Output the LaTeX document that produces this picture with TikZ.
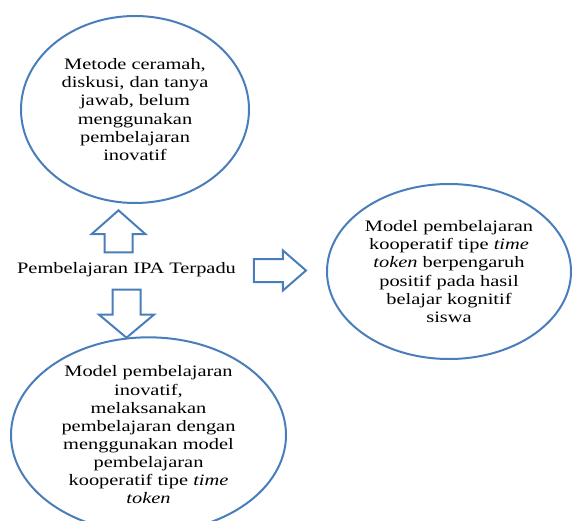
\documentclass[tikz,border=0pt]{standalone}
\usepackage{fontspec}
\setmainfont{Liberation Serif}[FakeStretch=1.28]
\usepackage{tikz}
\usetikzlibrary{shapes,arrows,fit,positioning}

\definecolor{wordblue}{RGB}{74,126,187}

\tikzset{
  bubble/.style={ellipse, draw=wordblue, line width=2bp, inner sep=0pt,
    align=center, font=\fontsize{16}{18.2}\selectfont},
  blockarrow/.style={single arrow, draw=wordblue, line width=2bp,
    inner xsep=0pt, single arrow head indent=0pt, anchor=tip}
}

\begin{document}
\begin{tikzpicture}[x=1bp,y=-1bp]
\useasboundingbox (0,0) rectangle (572,521);

\node[bubble, minimum width=228bp, minimum height=187bp] (metode) at (135,109.5)
  {Metode ceramah,\\ diskusi, dan tanya\\ jawab, belum\\ menggunakan\\ pembelajaran\\ inovatif};

\node[anchor=base, font=\fontsize{16}{18.2}\selectfont, inner sep=0pt] (ipa) at (126.5,273)
  {Pembelajaran IPA Terpadu};

\node[bubble, minimum width=244bp, minimum height=175bp] (timetoken) at (449,271.5)
  {Model pembelajaran\\ kooperatif tipe \textit{time}\\ \textit{token} berpengaruh\\ positif pada hasil\\ belajar kognitif\\ siswa};

\node[bubble, minimum width=275bp, minimum height=172bp] (inovatif) at (148.5,435)
  {Model pembelajaran\\ inovatif,\\ melaksanakan\\ pembelajaran dengan\\ menggunakan model\\ pembelajaran\\ kooperatif tipe \textit{time}\\ \textit{token}};

% block arrows from the central text
\node[blockarrow, rotate=90, minimum height=42bp, inner ysep=13bp,
  single arrow head extend=13bp, single arrow tip angle=97] (upar) at (118.5,209) {};
\node[blockarrow, rotate=-90, minimum height=48bp, inner ysep=13bp,
  single arrow head extend=13.5bp, single arrow tip angle=100] (downar) at (126.5,339) {};
\node[blockarrow, minimum height=52bp, inner ysep=10.5bp,
  single arrow head extend=8.5bp, single arrow tip angle=82] (rightar) at (307.5,270.5) {};

\end{tikzpicture}
\end{document}
